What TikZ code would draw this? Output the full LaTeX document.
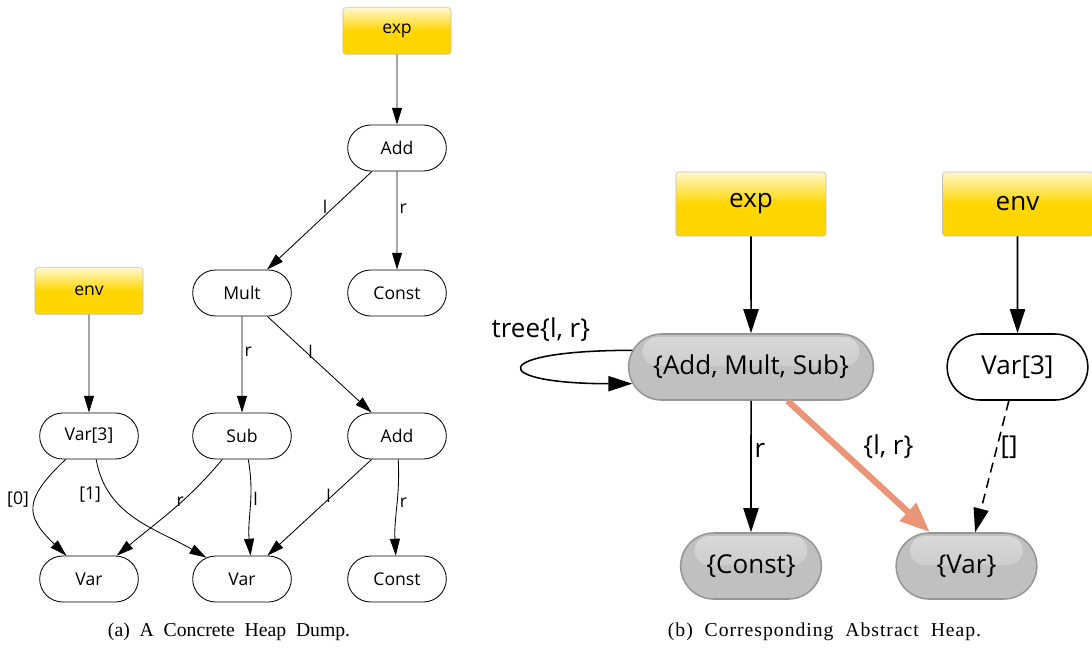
\documentclass[tikz,border=0pt]{standalone}
\usepackage{fontspec}
\setmainfont{Open Sans}
\newfontfamily\captionserif{Liberation Serif}
\usetikzlibrary{arrows.meta,shapes.misc}
\definecolor{rootgold}{RGB}{255,214,0}
\definecolor{roottop}{RGB}{255,248,205}
\definecolor{absgray}{RGB}{192,192,192}
\definecolor{absline}{RGB}{150,150,150}
\definecolor{salmonedge}{RGB}{234,148,120}
\newcommand\smallgraph{\fontsize{12.5}{15}\selectfont}
\newcommand\largegraph{\fontsize{18.5}{22}\selectfont}
\newcommand\capfont{\captionserif\fontsize{14}{16}\selectfont\spaceskip=0.5em}
\newcommand\widecapfont{\captionserif\fontsize{14}{16}\selectfont\addfontfeature{LetterSpace=5}\spaceskip=0.6em}

\begin{document}
\begin{tikzpicture}[x=0.025cm, y=0.025cm,
    rootbox/.style={draw=gray!50, rounded corners=2pt, top color=roottop, bottom color=rootgold, middle color=rootgold, minimum width=2.7cm, minimum height=1.17cm, font=\smallgraph},
    heapnode/.style={rounded rectangle, draw, line width=0.6pt, minimum width=2.7cm, minimum height=1.15cm, font=\smallgraph},
    edge/.style={-{Triangle[length=0.42cm,width=0.25cm]}, line width=0.6pt},
    elabel/.style={font=\smallgraph, inner sep=1.5pt},
    bigroot/.style={rootbox, minimum width=3.75cm, minimum height=1.6cm, font=\largegraph},
    bignode/.style={heapnode, line width=1.1pt, minimum width=3.75cm, minimum height=1.65cm, font=\largegraph},
    absnode/.style={bignode, draw=absline, fill=absgray, path picture={
        \shade[top color=white!40!absgray, bottom color=absgray, rounded corners=0.35cm]
        ([xshift=0.35cm,yshift=-0.08cm]path picture bounding box.north west) rectangle
        ([xshift=-0.35cm,yshift=-0.8cm]path picture bounding box.north east);}},
    bigedge/.style={-{Triangle[length=0.6cm,width=0.38cm]}, line width=1.1pt},
    blabel/.style={font=\largegraph, inner sep=2pt}
]
\useasboundingbox (0,0) rectangle (1092,-647);

% (a) concrete heap dump
\node[rootbox] (cexp) at (397,-31) {exp};
\node[heapnode] (cadd) at (397,-148) {Add};
\node[heapnode] (cmult) at (242,-293) {Mult};
\node[heapnode] (cconst) at (397,-293) {Const};
\node[rootbox] (cenv) at (89,-291) {env};
\node[heapnode] (cvarthree) at (89,-436) {Var[3]};
\node[heapnode] (csub) at (242,-436) {Sub};
\node[heapnode] (caddtwo) at (397,-436) {Add};
\node[heapnode] (cvarone) at (89,-579) {Var};
\node[heapnode] (cvartwo) at (242,-579) {Var};
\node[heapnode] (cconsttwo) at (397,-579) {Const};

\draw[edge] (cexp) -- (cadd);
\draw[edge] (cadd) -- node[elabel, left=3pt, pos=0.36] {l} (cmult);
\draw[edge] (cadd) -- node[elabel, right, pos=0.38] {r} (cconst);
\draw[edge] (cenv) -- (cvarthree);
\draw[edge] (cmult) -- node[elabel, right, pos=0.37] {r} (csub);
\draw[edge] (cmult) -- node[elabel, right, pos=0.37] {l} (caddtwo);
\draw[edge] (cvarthree.-135) .. controls +(-42,-40) and +(-42,40) .. node[elabel, left=3pt, pos=0.4] {[0]} (cvarone.134);
\draw[edge] (cvarthree.-73) to[out=-80, in=150] node[elabel, left=5pt, pos=0.25] {[1]} (cvartwo.149);
\draw[edge] (csub) to[out=-130, in=40] node[elabel, left=-3pt, pos=0.4] {r} (cvarone);
\draw[edge] (csub.-75) to[out=-80, in=95] node[elabel, right, pos=0.4] {l} (cvartwo.70);
\draw[edge] (caddtwo) -- node[elabel, left=-1pt, pos=0.38] {l} (cvartwo);
\draw[edge] (caddtwo) to[out=-87, in=93] node[elabel, right, pos=0.45] {r} (cconsttwo);

% (b) abstract heap
\node[bigroot] (aexp) at (751,-204) {exp};
\node[bigroot] (aenv) at (1017.5,-204) {env};
\node[absnode, minimum width=6.35cm] (aops) at (751,-367) {\{Add, Mult, Sub\}};
\node[bignode] (avarthree) at (1017.5,-367) {Var[3]};
\node[absnode] (aconst) at (751,-566) {\{Const\}};
\node[absnode] (avar) at (966.5,-566) {\{Var\}};

\draw[bigedge] (aexp) -- (aops);
\draw[bigedge] (aenv) -- (avarthree);
\draw[bigedge] (aops.172) .. controls +(-145,0) and +(-145,0) .. node[blabel, above=0.3cm, pos=0.3] {tree\{l, r\}} (aops.188);
\draw[bigedge] (aops) -- node[blabel, right, pos=0.38] {r} (aconst);
\draw[salmonedge, line width=4.5pt, -{Triangle[length=0.75cm,width=0.58cm]}] (aops) -- node[blabel, text=black, right=0.5cm, pos=0.35] {\{l, r\}} (avar);
\draw[bigedge, dash pattern=on 0.25cm off 0.15cm] (avarthree) -- node[blabel, right, pos=0.35] {[]} (avar);

% captions
\node[font=\capfont, anchor=west] (capa) at (103,-632) {(a) A Concrete Heap Dump.};
\node[font=\widecapfont, anchor=west] (capb) at (663,-632) {(b) Corresponding Abstract Heap.};
\end{tikzpicture}
\end{document}
